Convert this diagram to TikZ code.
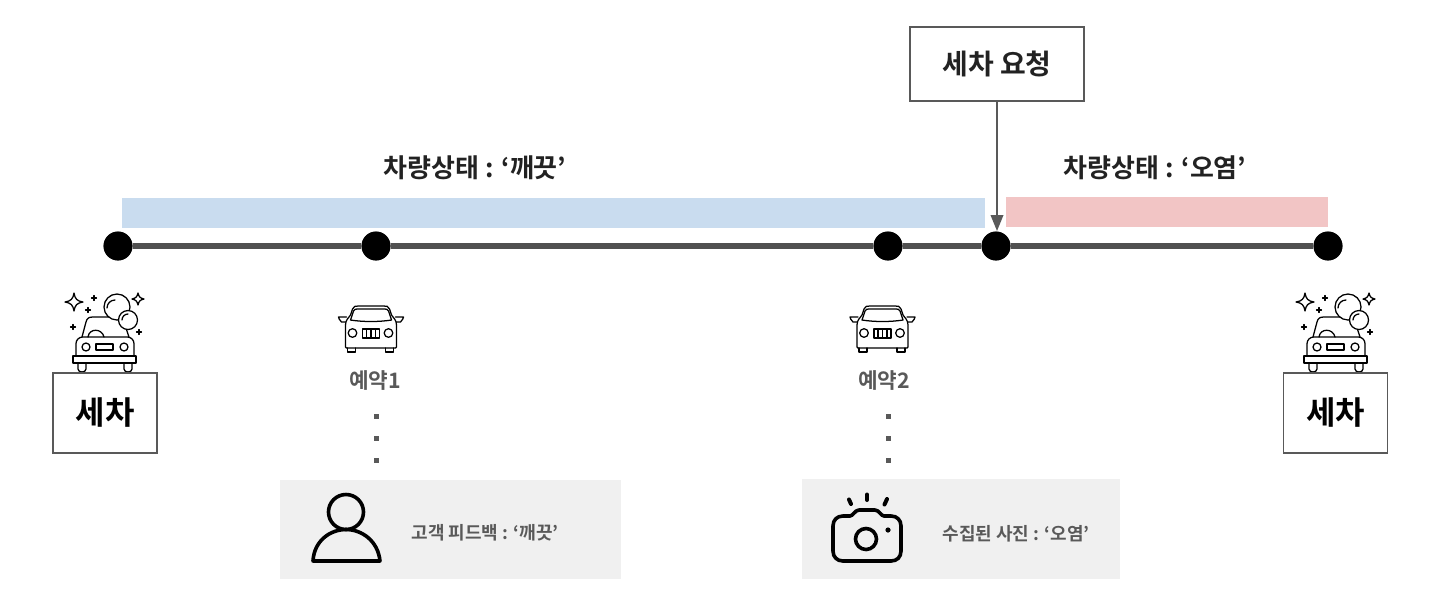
\documentclass[tikz,border=0pt]{standalone}
\usepackage{fontspec}
\setmainfont{Noto Sans CJK KR}[BoldFont={Noto Sans CJK KR Bold}]
\usetikzlibrary{arrows.meta}
\definecolor{ink}{HTML}{595959}
\definecolor{dark}{HTML}{222222}
\definecolor{barblue}{HTML}{C9DCEF}
\definecolor{barpink}{HTML}{F2C5C5}
\definecolor{panel}{HTML}{F0F0F0}
\definecolor{track}{HTML}{505050}
\tikzset{
  x=0.75pt,y=-0.75pt,
  dot/.style={circle,fill=black,inner sep=0pt,minimum size=21.5pt},
  framebox/.style={draw=ink,line width=1.1pt,fill=white,inner sep=0pt},
  head/.style={font=\fontsize{19.5pt}{22pt}\selectfont\bfseries,text=dark,inner sep=0pt},
  sub/.style={font=\fontsize{16pt}{20pt}\selectfont\bfseries,text=ink,inner sep=0pt},
  small/.style={font=\fontsize{13.5pt}{16pt}\selectfont\bfseries,text=ink,inner sep=0pt},
  icon/.style={draw=black,line width=0.95pt,line join=round,line cap=round},
  carwash/.pic={
    \draw[icon] (82,337) -- (86,322) .. controls (87,318) and (89,317) .. (93,317) -- (110,317);
    \draw[icon] (126,328) -- (129,337);
    \draw[icon] (88,337) .. controls (89,328) and (102,328) .. (104,337);
    \draw[icon,rounded corners=5pt] (76,356) -- (76,337) -- (134,337) -- (134,356);
    \draw[icon] (73,356) rectangle (136,363);
    \draw[icon] (78,363) -- (78,369) .. controls (78,373) and (86,373) .. (86,369) -- (86,363);
    \draw[icon] (124,363) -- (124,369) .. controls (124,373) and (132,373) .. (132,369) -- (132,363);
    \draw[icon] (86,347) circle (4);
    \draw[icon] (124,347) circle (4);
    \draw[icon] (96,344) rectangle (113,350);
    \draw[icon,fill=white] (117,307) circle (13);
    \draw[icon,fill=white] (128,320) circle (9.5);
    \draw[icon] (107,308) arc (180:270:8);
    \draw[icon] (122,320) arc (180:270:6);
    \draw[icon] (74,293) .. controls (75,299) and (77,301) .. (83,302) .. controls (77,303) and (75,305) .. (74,311) .. controls (73,305) and (71,303) .. (65,302) .. controls (71,301) and (73,299) .. (74,293) -- cycle;
    \draw[icon] (138,293) .. controls (139,297) and (140,298) .. (144,299) .. controls (140,300) and (139,301) .. (138,305) .. controls (137,301) and (136,300) .. (132,299) .. controls (136,298) and (137,297) .. (138,293) -- cycle;
    \foreach \px/\py in {94/298,88/310,73/327,139/332}{
      \draw[icon] (\px-2.5,\py) -- (\px+2.5,\py) (\px,\py-2.5) -- (\px,\py+2.5);
    }
  },
  sedan/.pic={
    \draw[icon] (346,347) -- (346,325) .. controls (346,320) and (349,318) .. (351,315) -- (353,309) .. controls (354,306) and (356,306) .. (359,306) -- (384,306) .. controls (387,306) and (389,306) .. (390,309) -- (392,315) .. controls (394,318) and (397,320) .. (397,325) -- (397,347) .. controls (397,348) and (396,348) .. (394,348) -- (349,348) .. controls (347,348) and (346,348) .. (346,347) -- cycle;
    \draw[icon] (351,320) -- (354,311) .. controls (355,309) and (356,309) .. (358,309) -- (385,309) .. controls (387,309) and (388,309) .. (389,311) -- (392,320) .. controls (380,322) and (363,322) .. (351,320) -- cycle;
    \draw[icon] (348,348) -- (348,352) -- (356,352) -- (356,348);
    \draw[icon] (386,348) -- (386,352) -- (394,352) -- (394,348);
    \draw[icon] (353,333) circle (4.3);
    \draw[icon] (389,333) circle (4.3);
    \draw[icon] (363,329) rectangle (380,338);
    \foreach \gx in {367,371.5,376}{\draw[icon] (\gx,329) -- (\gx,338);}
    \draw[icon] (346,322) -- (342,322) .. controls (340,320) and (339,318) .. (339,317) -- (347,317);
    \draw[icon] (397,322) -- (401,322) .. controls (403,320) and (404,318) .. (404,317) -- (396,317);
  },
}
\begin{document}
\begin{tikzpicture}
\useasboundingbox (0,0) rectangle (1452,612);
% bars
\fill[barblue] (122,198) rectangle (985,228);
\fill[barpink] (1006,197) rectangle (1328,227);
% timeline
\node[dot] (d1) at (118,246) {};
\node[dot] (d2) at (376,246) {};
\node[dot] (d3) at (888,246) {};
\node[dot] (d4) at (996,246) {};
\node[dot] (d5) at (1328,246) {};
\draw[track,line width=5.2pt] (d1) -- (d2);
\draw[track,line width=5.2pt] (d2) -- (d3);
\draw[track,line width=5.2pt] (d3) -- (d4);
\draw[track,line width=5.2pt] (d4) -- (d5);
\foreach \n in {d1,d2,d3,d4,d5}{\fill[black] (\n) circle (14.5);}
% request box
\node[framebox,minimum width=130.5pt,minimum height=55.5pt,font=\fontsize{21pt}{24pt}\selectfont\bfseries,text=dark] (req) at (997,64) {세차 요청};
\coordinate (tip) at (997,231);
\draw[draw=ink,line width=1.2pt,-{Triangle[length=12pt,width=9.5pt,fill=ink]}] (req.south) -- (tip);
% state labels
\node[head] (s1) at (475,168) {차량상태 : ‘깨끗'};
\node[head] (s2) at (1155,168) {차량상태 : ‘오염'};
% icons
\pic at (0,0) {carwash};
\pic at (1231,0) {carwash};
\pic at (-0.5,0) {sedan};
\pic at (511,0) {sedan};
% wash boxes
\node[framebox,minimum width=78pt,minimum height=60pt,font=\fontsize{24pt}{28pt}\selectfont\bfseries,text=black] (w1) at (105,413) {세차};
\node[framebox,minimum width=78pt,minimum height=60pt,font=\fontsize{24pt}{28pt}\selectfont\bfseries,text=black] (w2) at (1335.5,413) {세차};
% reservation labels
\node[sub] (r1) at (375,380) {예약1};
\node[sub] (r2) at (884,380) {예약2};
% vertical ellipses
\foreach \ex in {376,888}{\foreach \ey in {416,438,460}{
  \fill[ink] (\ex-2.5,\ey-2.5) rectangle (\ex+2.5,\ey+2.5);}}
% panels
\fill[panel] (280,480) rectangle (621,579);
\fill[panel] (802,479) rectangle (1120,579);
\node[small] (p1) at (485,533) {고객 피드백 : ‘깨끗'};
\node[small] (p2) at (1016,534) {수집된 사진 : ‘오염'};
% person
\draw[line width=2.7pt,line join=round] (346,512) circle (17.5);
\draw[line width=2.7pt,line join=round] (313,561) .. controls (314,541) and (330,529.5) .. (346,529.5) .. controls (362,529.5) and (378,541) .. (380,561) -- cycle;
% camera
\draw[line width=2.7pt,line join=round,line cap=round] (843,516) -- (850,516) .. controls (853,516) and (855,510) .. (859,510) -- (875,510) .. controls (879,510) and (881,516) .. (884,516) -- (891,516) .. controls (897,516) and (901,520) .. (901,526) -- (901,551) .. controls (901,557) and (897,561) .. (891,561) -- (843,561) .. controls (837,561) and (833,557) .. (833,551) -- (833,526) .. controls (833,520) and (837,516) .. (843,516) -- cycle;
\draw[line width=2.7pt] (866,539) circle (10.5);
\fill[black] (888,530) circle (2.6);
\draw[line width=3pt,line cap=round] (849,499.5) -- (851,504);
\draw[line width=3pt,line cap=round] (867,494.5) -- (867,500);
\draw[line width=3pt,line cap=round] (887,499) -- (884.5,504.5);
\end{tikzpicture}
\end{document}
